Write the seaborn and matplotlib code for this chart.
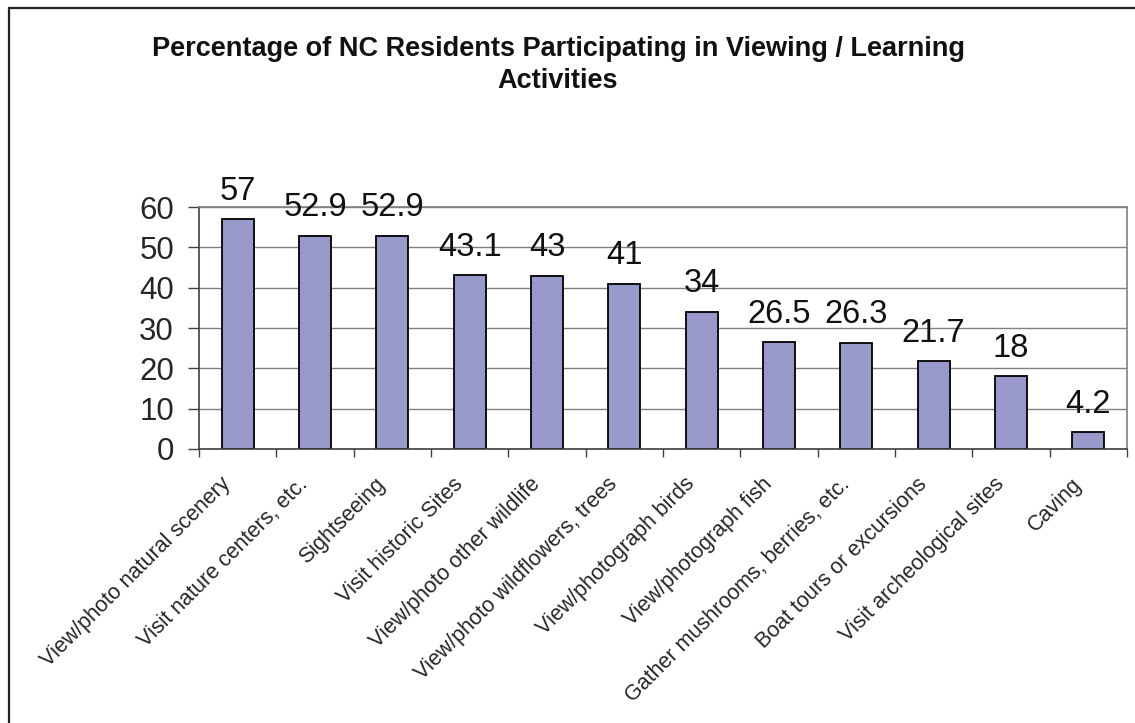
import matplotlib
matplotlib.use("Agg")
import matplotlib.pyplot as plt
from matplotlib.patches import Rectangle
from matplotlib.ticker import FixedLocator
from matplotlib.transforms import ScaledTranslation
import seaborn as sns
import pandas as pd

# data
activities = [
    "View/photo natural scenery",
    "Visit nature centers, etc.",
    "Sightseeing",
    "Visit historic Sites",
    "View/photo other wildlife",
    "View/photo wildflowers, trees",
    "View/photograph birds",
    "View/photograph fish",
    "Gather mushrooms, berries, etc.",
    "Boat tours or excursions",
    "Visit archeological sites",
    "Caving",
]
percent = [57, 52.9, 52.9, 43.1, 43, 41, 34, 26.5, 26.3, 21.7, 18, 4.2]
value_labels = ["57", "52.9", "52.9", "43.1", "43", "41", "34", "26.5", "26.3", "21.7", "18", "4.2"]
title = "Percentage of NC Residents Participating in Viewing / Learning\nActivities"

df = pd.DataFrame({"activity": activities, "pct": percent})

sns.set_style("white")
plt.rcParams["font.family"] = ["Liberation Sans", "DejaVu Sans"]

W, H = 1135, 723
fig = plt.figure(figsize=(W / 100, H / 100), dpi=100)
ax = fig.add_axes([199 / W, 1 - 449 / H, (1127 - 199) / W, (449 - 207) / H])

sns.barplot(data=df, x="activity", y="pct", color="#9999CC", edgecolor="black",
            linewidth=1.3, width=0.41, saturation=1, ax=ax)

ax.set_xlim(-0.5, len(activities) - 0.5)
ax.set_ylim(0, 60)
ax.set_yticks(range(0, 61, 10))
ax.yaxis.grid(True, color="#808080", linewidth=1)
ax.set_axisbelow(True)
ax.set_xlabel("")
ax.set_ylabel("")

for s in ["top", "right"]:
    ax.spines[s].set_color("#808080")
    ax.spines[s].set_linewidth(1.2)
for s in ["left", "bottom"]:
    ax.spines[s].set_color("#404040")
    ax.spines[s].set_linewidth(1.2)

# value labels above bars
for i, (v, t) in enumerate(zip(percent, value_labels)):
    ax.annotate(t, (i, v), xytext=(0, 9), textcoords="offset points",
                ha="center", va="bottom", fontsize=23.5, color="#111111")

# category labels, ticks between categories
ax.set_xticks(range(len(activities)))
ax.set_xticklabels(activities, rotation=45, ha="right", va="center",
                   rotation_mode="anchor", fontsize=15.5)
ax.tick_params(axis="x", which="major", length=0, pad=23)
ax.xaxis.set_minor_locator(FixedLocator([i - 0.5 for i in range(len(activities) + 1)]))
ax.tick_params(axis="x", which="minor", length=6, width=1, color="#404040",
               direction="out", bottom=True)
ax.tick_params(axis="y", length=8, width=1, color="#404040", direction="out",
               left=True, labelsize=22.5, pad=10)

# nudge rotated labels a bit left (after tick_params, which resets transforms)
shift = ScaledTranslation(-10 / 100, 0, fig.dpi_scale_trans)
for lab in ax.get_xticklabels():
    lab.set_transform(lab.get_transform() + shift)

fig.text(558 / W, 1 - 36 / H, title, ha="center", va="top", fontsize=19.5,
         fontweight="bold", linespacing=1.3, color="#111111")

# outer chart frame
fig.patches.append(Rectangle((9 / W, -0.1), 1.2, 1.1 - 8 / H, transform=fig.transFigure,
                             fill=False, edgecolor="#222222", linewidth=1.6))

fig.savefig("out.png", dpi=100)
